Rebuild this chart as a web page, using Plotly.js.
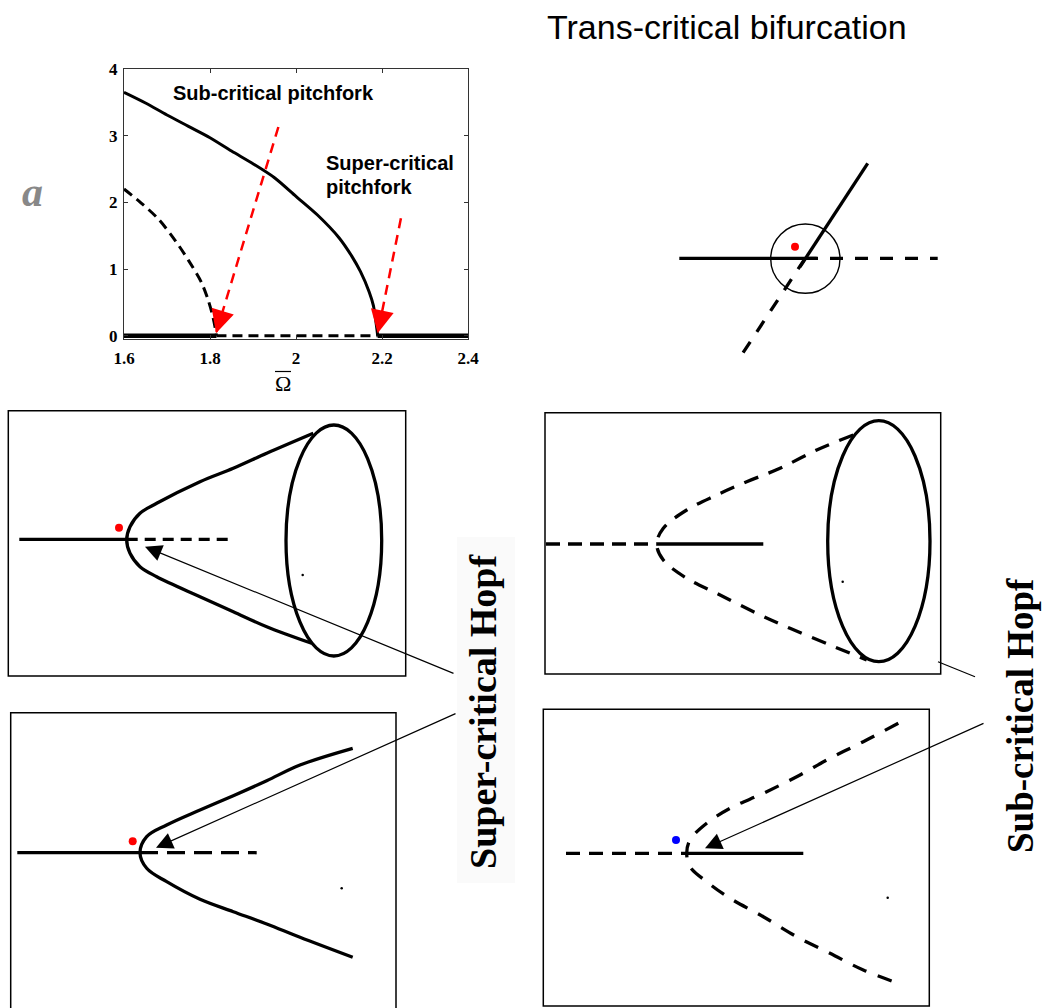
<!DOCTYPE html>
<html><head><meta charset="utf-8">
<script src="https://cdn.plot.ly/plotly-3.0.1.min.js"></script>
<style>html,body{margin:0;padding:0;background:#fff}#chart{width:1045px;height:1008px}</style>
</head><body><div id="chart"></div>
<script>
// ===== Panel a: bifurcation diagram (amplitude vs Omega-bar) =====
const omegaStable   = [1.6, 1.65, 1.7, 1.75, 1.8, 1.85, 1.9, 1.95, 2.0, 2.05, 2.1, 2.13, 2.15, 2.17, 2.18, 2.19];
const ampStable     = [3.65, 3.49, 3.31, 3.14, 2.97, 2.77, 2.58, 2.37, 2.09, 1.81, 1.47, 1.19, 0.96, 0.66, 0.45, 0.0];
const omegaUnstable = [1.6, 1.64, 1.68, 1.72, 1.75, 1.78, 1.795, 1.805, 1.812, 1.815];
const ampUnstable   = [2.2, 1.99, 1.75, 1.42, 1.13, 0.80, 0.55, 0.33, 0.12, 0.0];
const omegaTrivialStableLeft  = [1.6, 1.815];
const omegaTrivialUnstable    = [1.815, 2.19];
const omegaTrivialStableRight = [2.19, 2.4];
const ampTrivial = [0, 0];
const redArrowTailX = [1.959, 2.244];
const redArrowTailY = [3.13, 1.76];
const redArrowTipX  = [1.814, 2.19];
const redArrowTipY  = [0.036, 0.036];
const xTickVals = [1.6, 1.8, 2, 2.2, 2.4];
const xTickText = ['1.6', '1.8', '2', '2.2', '2.4'];
const yTickVals = [0, 1, 2, 3, 4];
const yTickText = ['0', '1', '2', '3', '4'];

// ===== Sketches (page-unit coordinates) =====
// Trans-critical
const trStableHX = [679.3, 816.7], trStableHY = [258.3, 258.3];
const trUnstableHX = [805, 937.7], trUnstableHY = [258.3, 258.3];
const trStableDX = [867.7, 800], trStableDY = [163.3, 266.8];
const trUnstableDX = [805.2, 742.7], trUnstableDY = [258.3, 353.3];
const trCircle = [770.7, 224, 840, 293.3];
const trPointX = [795], trPointY = [246.7];
// Panel 1: super-critical Hopf, limit cycle
const p1Box = [8.3, 410.7, 405.7, 676];
const p1StableX = [19.3, 126.7], p1StableY = [539.3, 539.3];
const p1UnstableX = [126.7, 229.3], p1UnstableY = [539.3, 539.3];
const p1BranchX = [313.3, 266.7, 233.3, 200, 156.7, 140, 130, 126.7, 130, 140, 156.7, 200, 233.3, 266.7, 311.7];
const p1BranchY = [433.3, 453.3, 468.3, 481.7, 503.3, 513.3, 526.7, 540, 553.3, 566.7, 576.7, 596.7, 611.7, 626.7, 643.3];
const p1Cycle = [286, 425, 381.7, 656];
const p1PointX = [119], p1PointY = [527.7];
const p1SpeckX = [302.7], p1SpeckY = [575];
// Panel 2: sub-critical Hopf, limit cycle
const p2Box = [545, 412.7, 940.7, 674];
const p2UnstableX = [546, 656.7], p2UnstableY = [544, 544];
const p2StableX = [656.7, 763.3], p2StableY = [544, 544];
const p2BranchX = [853.3, 816.7, 780, 746.7, 716.7, 686.7, 663.3, 656.7, 663.3, 686.7, 716.7, 756.7, 790, 830, 866.7];
const p2BranchY = [435, 450, 468.3, 481.7, 495, 510, 528.3, 544, 560, 578.3, 593.3, 613.3, 628.3, 645, 660];
const p2Cycle = [827.7, 420.7, 930, 661.7];
const p2SpeckX = [842.7], p2SpeckY = [581.7];
// Panel 3: super-critical Hopf
const p3Box = [10.7, 712.7, 396, 1015];
const p3StableX = [17.3, 140], p3StableY = [852.7, 852.7];
const p3UnstableX = [140, 256.7], p3UnstableY = [852.7, 852.7];
const p3BranchX = [352.7, 300, 266.7, 233.3, 200, 166.7, 146.7, 140, 146.7, 166.7, 200, 233.3, 266.7, 300, 352.7];
const p3BranchY = [748.3, 765, 780.7, 795.7, 810, 825, 836.7, 852.7, 868.3, 881.7, 899.3, 911.7, 924, 937.3, 957.3];
const p3PointX = [132.7], p3PointY = [841.3];
const p3SpeckX = [341.7], p3SpeckY = [888.3];
// Panel 4: sub-critical Hopf
const p4Box = [543.3, 709.3, 929.3, 1006];
const p4UnstableX = [566, 686.7], p4UnstableY = [853.3, 853.3];
const p4StableX = [686.7, 803.3], p4StableY = [853.3, 853.3];
const p4BranchX = [898.3, 863.3, 830, 796.7, 763.3, 730, 706.7, 690, 686.7, 690, 706.7, 730, 763.3, 796.7, 830, 863.3, 898.3];
const p4BranchY = [723.3, 741.7, 758.3, 776.7, 793.3, 808.3, 823.3, 840, 853.3, 866.7, 881.7, 898.3, 916.7, 936.7, 953.3, 970, 983.3];
const p4PointX = [676], p4PointY = [840];
const p4SpeckX = [887.7], p4SpeckY = [897.7];
// Pointer lines: [tipX, tipY, tailX, tailY]
const pointerP1 = [145, 546.7, 455, 674];
const pointerP3 = [156, 847.7, 457, 713];
const pointerP4 = [705, 848.3, 985, 722.7];
const pointerP2X = [938, 975], pointerP2Y = [661.7, 676.7];

// ===== layout geometry =====
const W = 1045, H = 1008;
const chartDom = {x0: 124, x1: 468, y0: 69, y1: 339.3};
const xRange = [1.6, 2.4], yRange = [-0.054, 4];

const traces = [];
function line(x, y, opts, xa, ya) {
  traces.push(Object.assign({type: 'scatter', mode: 'lines', x: x, y: y, xaxis: xa, yaxis: ya,
    hoverinfo: 'skip', showlegend: false}, opts));
}
function dots(x, y, color, size) {
  traces.push({type: 'scatter', mode: 'markers', x: x, y: y, xaxis: 'x2', yaxis: 'y2', hoverinfo: 'skip',
    showlegend: false, marker: {color: color, size: size}});
}
// chart traces
line(omegaStable, ampStable, {line: {color: '#000', width: 3, shape: 'spline', smoothing: 0.8}}, 'x', 'y');
line(omegaUnstable, ampUnstable, {line: {color: '#000', width: 3, dash: '10px,6px', shape: 'spline', smoothing: 0.8}}, 'x', 'y');
line(omegaTrivialStableLeft, ampTrivial, {line: {color: '#000', width: 4.5}}, 'x', 'y');
line(omegaTrivialUnstable, ampTrivial, {line: {color: '#000', width: 3, dash: '10px,6px'}}, 'x', 'y');
line(omegaTrivialStableRight, ampTrivial, {line: {color: '#000', width: 4.5}}, 'x', 'y');
for (let i = 0; i < redArrowTailX.length; i++) {
  line([redArrowTailX[i], redArrowTipX[i]], [redArrowTailY[i], redArrowTipY[i]],
    {line: {color: '#ff0000', width: 2.5, dash: '10px,7px'}}, 'x', 'y');
}
// sketches
const sk = (x, y, dash, smooth) => line(x, y, {line: {color: '#000', width: 3.3, dash: dash || 'solid',
  shape: smooth ? 'spline' : 'linear', smoothing: 1}}, 'x2', 'y2');
sk(trStableHX, trStableHY);
sk(trUnstableHX, trUnstableHY, '13px,12px');
sk(trStableDX, trStableDY);
sk(trUnstableDX, trUnstableDY, '13px,12px');
sk(p1StableX, p1StableY);
sk(p1UnstableX, p1UnstableY, '11px,7px');
sk(p1BranchX, p1BranchY, null, true);
sk(p2UnstableX, p2UnstableY, '14px,8px');
sk(p2StableX, p2StableY);
sk(p2BranchX, p2BranchY, '15px,11px', true);
sk(p3StableX, p3StableY);
sk(p3UnstableX, p3UnstableY, '18px,9px');
sk(p3BranchX, p3BranchY, null, true);
sk(p4UnstableX, p4UnstableY, '14px,9px');
sk(p4StableX, p4StableY);
sk(p4BranchX, p4BranchY, '15px,12px', true);
line(pointerP2X, pointerP2Y, {line: {color: '#000', width: 1.2}}, 'x2', 'y2');
dots(trPointX, trPointY, '#ff0000', 8);
dots(p1PointX, p1PointY, '#ff0000', 8);
dots(p3PointX, p3PointY, '#ff0000', 8);
dots(p4PointX, p4PointY, '#0000ff', 8);
dots(p1SpeckX.concat(p2SpeckX, p3SpeckX, p4SpeckX), p1SpeckY.concat(p2SpeckY, p3SpeckY, p4SpeckY), '#000', 2.5);

// shapes
const shapes = [];
function rect(b) {
  shapes.push({type: 'rect', xref: 'x2', yref: 'y2', x0: b[0], y0: b[1], x1: b[2], y1: b[3],
    line: {color: '#000', width: 1.5}, fillcolor: 'rgba(0,0,0,0)', layer: 'below'});
}
rect(p1Box); rect(p2Box); rect(p3Box); rect(p4Box);
shapes.push({type: 'rect', xref: 'x2', yref: 'y2', x0: 457, y0: 537, x1: 515, y1: 883,
  line: {width: 0}, fillcolor: '#fafafa', layer: 'below'});
function ell(b, w) {
  shapes.push({type: 'circle', xref: 'x2', yref: 'y2', x0: b[0], y0: b[1], x1: b[2], y1: b[3],
    line: {color: '#000', width: w}, fillcolor: 'rgba(0,0,0,0)'});
}
ell(p1Cycle, 3.3); ell(p2Cycle, 3.3); ell(trCircle, 1.4);
// overbar of the Omega-bar axis label
shapes.push({type: 'line', xref: 'x2', yref: 'y2', x0: 275, x1: 291, y0: 371.5, y1: 371.5,
  line: {color: '#000', width: 1.2}});

// annotations
const serif = 'Liberation Serif, Times New Roman, serif';
const sans = 'Liberation Sans, Arial, sans-serif';
const ann = [];
const kx = (chartDom.x1 - chartDom.x0) / (xRange[1] - xRange[0]);
const ky = (chartDom.y1 - chartDom.y0) / (yRange[1] - yRange[0]);
for (let i = 0; i < redArrowTailX.length; i++) {
  const dx = (redArrowTipX[i] - redArrowTailX[i]) * kx;
  const dy = -(redArrowTipY[i] - redArrowTailY[i]) * ky;
  const L = Math.hypot(dx, dy);
  ann.push({xref: 'x', yref: 'y', x: redArrowTipX[i], y: redArrowTipY[i], axref: 'pixel', ayref: 'pixel',
    ax: -dx / L * 24, ay: -dy / L * 24, text: '', showarrow: true, arrowhead: 2, arrowsize: 1.85,
    arrowwidth: 2.5, arrowcolor: '#ff0000', standoff: 0});
}
[pointerP1, pointerP3, pointerP4].forEach(p => {
  ann.push({xref: 'x2', yref: 'y2', x: p[0], y: p[1], axref: 'x2', ayref: 'y2', ax: p[2], ay: p[3],
    text: '', showarrow: true, arrowhead: 2, arrowsize: 2.8, arrowwidth: 1.2, arrowcolor: '#000', standoff: 0});
});
const boldSans = {family: sans, size: 20, weight: 'bold', color: '#000'};
ann.push({xref: 'x', yref: 'y', x: 1.7086, y: 3.64, xanchor: 'left', yanchor: 'middle', showarrow: false,
  text: 'Sub-critical pitchfork', font: boldSans});
ann.push({xref: 'x', yref: 'y', x: 2.065, y: 2.59, xanchor: 'left', yanchor: 'middle', showarrow: false,
  text: 'Super-critical', font: boldSans});
ann.push({xref: 'x', yref: 'y', x: 2.065, y: 2.23, xanchor: 'left', yanchor: 'middle', showarrow: false,
  text: 'pitchfork', font: boldSans});
ann.push({xref: 'x2', yref: 'y2', x: 283, y: 383, xanchor: 'center', yanchor: 'middle', showarrow: false,
  text: '\u03A9', font: {family: serif, size: 22, color: '#000'}});
ann.push({xref: 'x2', yref: 'y2', x: 32, y: 192, xanchor: 'center', yanchor: 'middle', showarrow: false,
  text: 'a', font: {family: serif, size: 42, weight: 'bold', style: 'italic', color: '#888888'}});
ann.push({xref: 'x2', yref: 'y2', x: 545, y: 27, xanchor: 'left', yanchor: 'middle', showarrow: false,
  text: 'Trans-critical bifurcation', font: {family: sans, size: 34, color: '#000'}});
ann.push({xref: 'x2', yref: 'y2', x: 483, y: 712, xanchor: 'center', yanchor: 'middle', showarrow: false,
  textangle: -90, borderpad: 0, text: 'Super-critical Hopf', font: {family: serif, size: 38, weight: 'bold', color: '#000'}});
ann.push({xref: 'x2', yref: 'y2', x: 1020, y: 716, xanchor: 'center', yanchor: 'middle', showarrow: false,
  textangle: -90, borderpad: 0, text: 'Sub-critical Hopf', font: {family: serif, size: 37, weight: 'bold', color: '#000'}});

const tickFont = {family: serif, size: 17, weight: 'bold', color: '#000'};
const layout = {
  width: W, height: H, margin: {l: 0, r: 0, t: 0, b: 0}, autosize: false,
  paper_bgcolor: '#fff', plot_bgcolor: 'rgba(0,0,0,0)', showlegend: false,
  xaxis: {domain: [chartDom.x0 / W, chartDom.x1 / W], range: xRange, anchor: 'y',
    tickvals: xTickVals, ticktext: xTickText, ticks: 'inside', ticklen: 4, tickcolor: '#333',
    showline: true, linecolor: '#333', linewidth: 1, mirror: 'ticks', showgrid: false, zeroline: false,
    tickfont: tickFont, ticklabelstandoff: 3, fixedrange: true},
  yaxis: {domain: [1 - chartDom.y1 / H, 1 - chartDom.y0 / H], range: yRange, anchor: 'x',
    tickvals: yTickVals, ticktext: yTickText, ticks: 'inside', ticklen: 4, tickcolor: '#333',
    showline: true, linecolor: '#333', linewidth: 1, mirror: 'ticks', showgrid: false, zeroline: false,
    tickfont: tickFont, ticklabelstandoff: 2, fixedrange: true},
  xaxis2: {domain: [0, 1], range: [0, W], anchor: 'y2', visible: false, fixedrange: true},
  yaxis2: {domain: [0, 1], range: [H, 0], anchor: 'x2', visible: false, fixedrange: true},
  shapes: shapes, annotations: ann
};
Plotly.newPlot('chart', traces, layout, {staticPlot: true, displayModeBar: false});
</script>
</body></html>
